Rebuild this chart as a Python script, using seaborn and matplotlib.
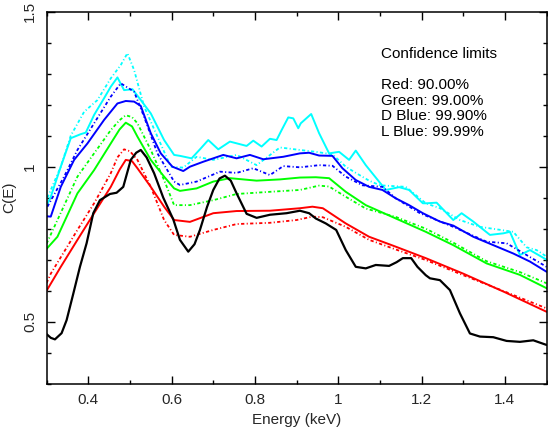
import matplotlib
matplotlib.use("Agg")
import matplotlib.pyplot as plt
import seaborn as sns
import pandas as pd
from matplotlib.ticker import MultipleLocator

# ---------------- data ----------------
black_x = [0.30,0.31,0.32,0.336,0.348,0.364,0.38,0.396,0.412,0.428,0.452,0.468,0.484,0.502,0.515,0.526,0.54,0.558,0.58,0.604,0.62,0.64,0.655,0.668,0.685,0.70,0.715,0.728,0.742,0.756,0.78,0.804,0.836,0.876,0.908,0.93,0.946,0.97,0.995,1.018,1.042,1.066,1.09,1.122,1.14,1.155,1.175,1.19,1.21,1.22,1.244,1.268,1.292,1.316,1.34,1.372,1.404,1.436,1.468,1.50]
black_y = [0.46,0.448,0.443,0.463,0.505,0.59,0.677,0.753,0.85,0.892,0.912,0.916,0.935,1.022,1.045,1.054,1.03,0.979,0.90,0.83,0.764,0.726,0.75,0.796,0.87,0.925,0.962,0.971,0.955,0.914,0.848,0.835,0.845,0.85,0.858,0.85,0.833,0.817,0.796,0.731,0.677,0.672,0.683,0.68,0.692,0.705,0.705,0.677,0.65,0.64,0.634,0.602,0.527,0.462,0.452,0.45,0.438,0.435,0.44,0.425]

red_x = [0.30,0.334,0.374,0.414,0.454,0.475,0.49,0.505,0.518,0.55,0.582,0.606,0.644,0.70,0.756,0.836,0.908,0.938,0.963,1.018,1.074,1.138,1.21,1.30,1.40,1.50]
red_y = [0.60,0.677,0.764,0.85,0.935,0.99,1.022,1.018,0.995,0.935,0.871,0.828,0.822,0.85,0.857,0.858,0.866,0.871,0.866,0.817,0.774,0.742,0.705,0.655,0.595,0.532]

red_d_x = [0.30,0.31,0.374,0.414,0.454,0.47,0.486,0.50,0.518,0.55,0.582,0.606,0.644,0.70,0.756,0.836,0.90,0.938,0.963,1.018,1.074,1.138,1.21,1.30,1.40,1.50]
red_d_y = [0.625,0.655,0.796,0.882,0.979,1.03,1.056,1.05,1.022,0.935,0.828,0.78,0.774,0.796,0.815,0.819,0.828,0.839,0.837,0.806,0.764,0.733,0.699,0.65,0.597,0.543]

green_x = [0.30,0.326,0.374,0.414,0.454,0.475,0.49,0.505,0.518,0.55,0.582,0.606,0.62,0.66,0.70,0.74,0.804,0.86,0.908,0.946,0.978,1.018,1.066,1.138,1.21,1.276,1.356,1.436,1.50]
green_y = [0.735,0.774,0.914,0.989,1.075,1.12,1.142,1.13,1.097,1.022,0.968,0.93,0.922,0.93,0.952,0.963,0.955,0.959,0.965,0.966,0.963,0.919,0.876,0.833,0.79,0.747,0.688,0.651,0.608]

green_d_x = [0.30,0.374,0.414,0.454,0.475,0.49,0.505,0.518,0.55,0.582,0.606,0.644,0.70,0.756,0.836,0.908,0.954,0.978,1.018,1.066,1.138,1.21,1.276,1.356,1.436,1.50]
green_d_y = [0.752,0.968,1.043,1.118,1.15,1.166,1.16,1.14,1.054,0.957,0.876,0.876,0.892,0.912,0.919,0.925,0.939,0.936,0.903,0.865,0.838,0.80,0.755,0.695,0.66,0.624]

blue_x = [0.30,0.31,0.334,0.366,0.398,0.438,0.47,0.49,0.51,0.526,0.55,0.574,0.602,0.628,0.644,0.676,0.724,0.756,0.788,0.82,0.868,0.908,0.93,0.954,0.986,1.01,1.042,1.074,1.106,1.138,1.17,1.203,1.244,1.276,1.324,1.372,1.42,1.46,1.50]
blue_y = [0.84,0.839,0.935,1.022,1.075,1.151,1.204,1.212,1.21,1.196,1.108,1.043,1.0,0.986,1.0,1.016,1.038,1.027,1.038,1.024,1.032,1.043,1.045,1.036,1.035,0.995,0.957,0.935,0.925,0.898,0.876,0.85,0.823,0.81,0.774,0.747,0.72,0.694,0.661]

blue_d_x = [0.302,0.342,0.374,0.414,0.454,0.478,0.51,0.534,0.566,0.606,0.62,0.66,0.716,0.756,0.796,0.836,0.868,0.908,0.954,0.986,1.018,1.058,1.106,1.138,1.196,1.276,1.356,1.404,1.452,1.50]
blue_d_y = [0.871,0.968,1.054,1.14,1.226,1.269,1.242,1.161,1.043,0.952,0.941,0.952,0.984,0.98,0.995,0.973,1.002,0.998,1.005,1.003,0.968,0.94,0.935,0.898,0.85,0.806,0.758,0.753,0.715,0.677]

cyan_x = [0.30,0.31,0.334,0.358,0.382,0.394,0.414,0.438,0.454,0.47,0.486,0.506,0.526,0.55,0.582,0.606,0.62,0.648,0.668,0.688,0.712,0.74,0.78,0.796,0.816,0.836,0.852,0.864,0.88,0.892,0.904,0.91,0.935,0.954,0.978,1.002,1.026,1.042,1.066,1.114,1.146,1.17,1.203,1.212,1.236,1.276,1.296,1.324,1.364,1.396,1.412,1.436,1.46,1.50]
cyan_y = [0.875,0.903,1.0,1.092,1.105,1.11,1.167,1.221,1.258,1.288,1.247,1.25,1.215,1.172,1.086,1.038,1.035,1.027,1.056,1.086,1.056,1.081,1.067,1.084,1.065,1.09,1.086,1.118,1.159,1.156,1.124,1.14,1.17,1.108,1.043,1.048,1.022,1.052,1.005,0.925,0.934,0.925,0.882,0.882,0.884,0.828,0.85,0.823,0.78,0.785,0.79,0.715,0.731,0.70]

cyan_d_x = [0.302,0.334,0.358,0.39,0.422,0.454,0.478,0.494,0.51,0.534,0.566,0.598,0.628,0.66,0.70,0.756,0.804,0.86,0.908,0.946,0.986,1.018,1.042,1.074,1.10,1.162,1.21,1.244,1.292,1.34,1.38,1.42,1.452,1.476,1.50]
cyan_d_y = [0.90,1.0,1.10,1.177,1.215,1.285,1.328,1.366,1.312,1.194,1.097,1.0,0.997,1.032,1.022,1.038,1.005,1.062,1.054,1.048,1.04,1.0,0.98,0.955,0.94,0.935,0.882,0.866,0.828,0.806,0.798,0.79,0.74,0.731,0.71]

legend_title = "Confidence limits"
legend_lines = ["Red: 90.00%", "Green: 99.00%", "D Blue: 99.90%", "L Blue: 99.99%"]
x_ticks = [0.4, 0.6, 0.8, 1.0, 1.2, 1.4]
x_ticklabels = ["0.4", "0.6", "0.8", "1", "1.2", "1.4"]
y_ticks = [0.5, 1.0, 1.5]
y_ticklabels = ["0.5", "1", "1.5"]

# ---------------- style ----------------
sns.set_theme(style="white")
plt.rcParams['font.family'] = ['Liberation Sans', 'DejaVu Sans']
plt.rcParams['font.size'] = 11

fig = plt.figure(figsize=(5.48, 4.36), dpi=100)
ax = fig.add_axes([46.6/548, 1-383.7/436, 500/548, 372/436])

dotted = (0, (1.8, 1.3, 0.6, 1.3))
series = [
    (cyan_d_x, cyan_d_y, "#00FFFF", dotted, 1.3),
    (cyan_x, cyan_y, "#00FFFF", "-", 1.4),
    (blue_d_x, blue_d_y, "#0000FF", dotted, 1.3),
    (blue_x, blue_y, "#0000FF", "-", 1.4),
    (green_d_x, green_d_y, "#00FF00", dotted, 1.3),
    (green_x, green_y, "#00FF00", "-", 1.4),
    (red_d_x, red_d_y, "#FF0000", dotted, 1.3),
    (red_x, red_y, "#FF0000", "-", 1.4),
    (black_x, black_y, "#000000", "-", 1.6),
]
for xs, ys, col, ls, lw in series:
    df = pd.DataFrame({"E": xs, "C": ys})
    sns.lineplot(data=df, x="E", y="C", ax=ax, color=col, linestyle=ls,
                 linewidth=lw, sort=False, estimator=None)

ax.set_xlim(0.3, 1.5)
ax.set_ylim(0.3, 1.5)
ax.set_xticks(x_ticks)
ax.set_xticklabels(x_ticklabels)
ax.set_yticks(y_ticks)
ax.set_yticklabels(y_ticklabels, rotation=90, va='center')
ax.xaxis.set_minor_locator(MultipleLocator(0.1))
ax.yaxis.set_minor_locator(MultipleLocator(0.1))
ax.tick_params(which='both', direction='in', top=True, right=True,
               bottom=True, left=True, color='black', width=1.0)
ax.tick_params(which='major', length=5.5, labelsize=11, pad=7)
ax.tick_params(which='minor', length=2.8)
for s in ax.spines.values():
    s.set_color('black')
    s.set_linewidth(1.1)

ax.set_xlabel("Energy (keV)", fontsize=11, labelpad=4)
ax.set_ylabel("C(E)", fontsize=11, labelpad=5)

px2ax_x = lambda px: (px - 46.6) / 500
px2ax_y = lambda py: (383.7 - py) / 372
ax.text(px2ax_x(380.7), px2ax_y(58), legend_title, transform=ax.transAxes,
        va='baseline', ha='left', fontsize=11, color='black')
for i, t in enumerate(legend_lines):
    ax.text(px2ax_x(380.7), px2ax_y(89.3 + i * 15.6), t, transform=ax.transAxes,
            va='baseline', ha='left', fontsize=11, color='black')

fig.savefig("out.png", dpi=100)
